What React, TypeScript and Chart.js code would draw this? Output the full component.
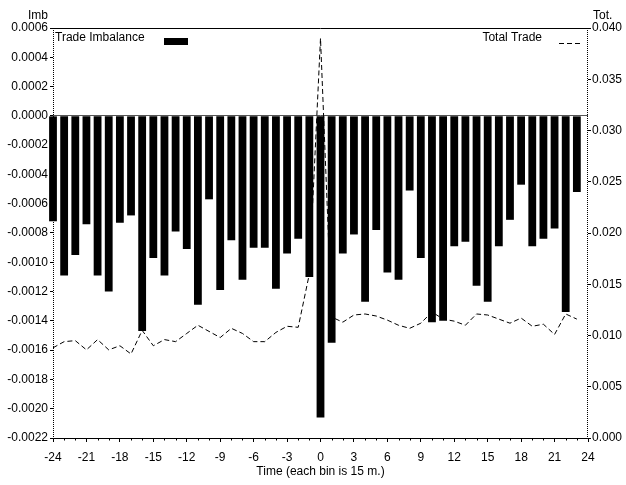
import React, { useEffect, useRef } from "react";
import { Chart, registerables } from "chart.js";

Chart.register(...registerables);

// Time bins (each bin is 15 minutes)
const bins = [
  -24, -23, -22, -21, -20, -19, -18, -17, -16, -15, -14, -13, -12, -11, -10, -9,
  -8, -7, -6, -5, -4, -3, -2, -1, 0, 1, 2, 3, 4, 5, 6, 7,
  8, 9, 10, 11, 12, 13, 14, 15, 16, 17, 18, 19, 20, 21, 22, 23,
];

// Trade imbalance (left axis)
const imbalance = [
  -0.00072, -0.00109, -0.00095, -0.00074, -0.00109, -0.0012, -0.00073, -0.00068,
  -0.00147, -0.00097, -0.00109, -0.00079, -0.00091, -0.00129, -0.00057, -0.00119,
  -0.00085, -0.00112, -0.0009, -0.0009, -0.00118, -0.00094, -0.00084, -0.0011,
  -0.00206, -0.00155, -0.00094, -0.00081, -0.00127, -0.00078, -0.00107, -0.00112,
  -0.00051, -0.00097, -0.00141, -0.0014, -0.00089, -0.00086, -0.00116, -0.00127,
  -0.00089, -0.00071, -0.00047, -0.00089, -0.00084, -0.00077, -0.00134, -0.00052,
];

// Total trade (right axis)
const totalTrade = [
  0.0088, 0.0094, 0.0095, 0.0086, 0.0096, 0.0086, 0.009, 0.0082,
  0.0105, 0.009, 0.0096, 0.0094, 0.0102, 0.011, 0.0104, 0.0098,
  0.0107, 0.0102, 0.0094, 0.0094, 0.0103, 0.0109, 0.0108, 0.016,
  0.039, 0.0118, 0.0113, 0.012, 0.0121, 0.0119, 0.0115, 0.011,
  0.0107, 0.0112, 0.0123, 0.0116, 0.0114, 0.011, 0.0121, 0.012,
  0.0116, 0.0112, 0.0117, 0.0109, 0.0111, 0.0101, 0.0121, 0.0116,
];

const xTicks = { min: -24, max: 24, step: 3 };
const leftTicks = { min: -0.0022, max: 0.0006, step: 0.0002 };
const rightTicks = { min: 0, max: 0.04, step: 0.005 };

const seriesLabels = ["Trade Imbalance", "Total Trade"];
const leftTitle = "Imb";
const rightTitle = "Tot.";
const xTitle = "Time (each bin is 15 m.)";

const FONT = '"Liberation Sans", Arial, sans-serif';

const decorPlugin = {
  id: "decor",
  afterDraw(chart: any) {
    const { ctx, chartArea: ca, scales } = chart;
    ctx.save();
    ctx.strokeStyle = "#000";
    ctx.lineWidth = 1;
    // top border
    ctx.beginPath();
    ctx.moveTo(ca.left, Math.round(ca.top) + 0.5);
    ctx.lineTo(ca.right, Math.round(ca.top) + 0.5);
    ctx.stroke();
    // dotted vertical axes
    ctx.setLineDash([1, 1]);
    ctx.beginPath();
    ctx.moveTo(Math.round(ca.left) + 0.5, ca.top);
    ctx.lineTo(Math.round(ca.left) + 0.5, ca.bottom);
    ctx.moveTo(Math.round(ca.right) - 0.5, ca.top);
    ctx.lineTo(Math.round(ca.right) - 0.5, ca.bottom);
    ctx.stroke();
    ctx.setLineDash([]);
    // minor x ticks
    ctx.beginPath();
    for (let t = xTicks.min; t <= xTicks.max; t++) {
      if (t % xTicks.step === 0) continue;
      const px = Math.round(scales.x.getPixelForValue(t)) + 0.5;
      ctx.moveTo(px, ca.bottom);
      ctx.lineTo(px, ca.bottom + 2.5);
    }
    ctx.stroke();

    // axis titles
    ctx.fillStyle = "#000";
    ctx.font = `12px ${FONT}`;
    ctx.textBaseline = "middle";
    ctx.textAlign = "right";
    ctx.fillText(leftTitle, scales.y.right - 5, 16);
    ctx.textAlign = "left";
    ctx.fillText(rightTitle, scales.y2.left + 5, 16);

    // legend
    const ly = ca.top + 10;
    ctx.textAlign = "left";
    ctx.fillText(seriesLabels[0], ca.left + 2, ly);
    ctx.fillStyle = "#000";
    ctx.fillRect(ca.left + 111, ly, 24, 7);
    ctx.textAlign = "right";
    ctx.fillText(seriesLabels[1], ca.right - 46, ly);
    ctx.setLineDash([5, 3]);
    ctx.beginPath();
    ctx.moveTo(ca.right - 29, ly + 5.5);
    ctx.lineTo(ca.right - 6, ly + 5.5);
    ctx.stroke();
    ctx.restore();
  },
};

export default function App() {
  const ref = useRef<HTMLCanvasElement | null>(null);

  useEffect(() => {
    if (!ref.current) return;
    const barData = bins.map((t, i) => ({ x: t, y: imbalance[i] }));
    const lineData = bins.map((t, i) => ({ x: t, y: totalTrade[i] }));
    const chart = new Chart(ref.current, {
      type: "bar",
      data: {
        datasets: [
          {
            type: "bar",
            label: seriesLabels[0],
            data: barData as any,
            backgroundColor: "#000",
            borderWidth: 0,
            barPercentage: 0.7,
            categoryPercentage: 1,
            yAxisID: "y",
            clip: false as any,
            order: 2,
          },
          {
            type: "line",
            label: seriesLabels[1],
            data: lineData as any,
            borderColor: "#000",
            borderWidth: 1,
            borderDash: [5, 3],
            pointRadius: 0,
            tension: 0,
            fill: false,
            yAxisID: "y2",
            order: 1,
          } as any,
        ],
      },
      options: {
        animation: false,
        responsive: false,
        layout: { padding: { top: 28, left: 0, right: 0, bottom: 0 } },
        plugins: {
          legend: { display: false },
          tooltip: { enabled: false },
        },
        scales: {
          x: {
            type: "linear",
            min: xTicks.min,
            max: xTicks.max,
            offset: false,
            grid: {
              offset: false,
              drawOnChartArea: false,
              color: "#000",
              tickColor: "#000",
              tickLength: 4,
            },
            border: { display: true, color: "#000", width: 1 },
            ticks: {
              stepSize: xTicks.step,
              autoSkip: false,
              padding: 8,
              color: "#000",
              font: { family: FONT, size: 12 },
              callback: (v: any) => String(v),
            },
            title: {
              display: true,
              text: xTitle,
              color: "#000",
              font: { family: FONT, size: 12 },
              padding: { top: 0, bottom: 6 },
            },
            afterFit: (s: any) => {
              s.height = 47;
            },
          },
          y: {
            type: "linear",
            position: "left",
            min: leftTicks.min,
            max: leftTicks.max,
            beginAtZero: true,
            grid: {
              drawOnChartArea: true,
              color: (c: any) =>
                c.tick && Math.abs(c.tick.value) < 1e-10 ? "#555" : "rgba(0,0,0,0)",
              tickColor: "#000",
              tickLength: 3,
            },
            border: { display: false },
            ticks: {
              stepSize: leftTicks.step,
              padding: 2,
              color: "#000",
              font: { family: FONT, size: 12 },
              callback: (v: any) => {
                const n = Math.abs(v) < 1e-10 ? 0 : Number(v);
                return n.toFixed(4);
              },
            },
            afterFit: (s: any) => {
              s.width = 53;
            },
          },
          y2: {
            type: "linear",
            position: "right",
            min: rightTicks.min,
            max: rightTicks.max,
            grid: {
              drawOnChartArea: false,
              color: "#000",
              tickColor: "#000",
              tickLength: 3,
            },
            border: { display: false },
            ticks: {
              stepSize: rightTicks.step,
              padding: 1,
              color: "#000",
              font: { family: FONT, size: 12 },
              callback: (v: any) => {
                const n = Math.abs(v) < 1e-10 ? 0 : Number(v);
                return n.toFixed(3);
              },
            },
            afterFit: (s: any) => {
              s.width = 38;
            },
          },
        },
      },
      plugins: [decorPlugin],
    });
    return () => chart.destroy();
  }, []);

  return (
    <div style={{ position: "absolute", left: 0, top: 0, width: 626, height: 485, background: "#fff" }}>
      <canvas ref={ref} width={626} height={485} style={{ display: "block" }} />
    </div>
  );
}
